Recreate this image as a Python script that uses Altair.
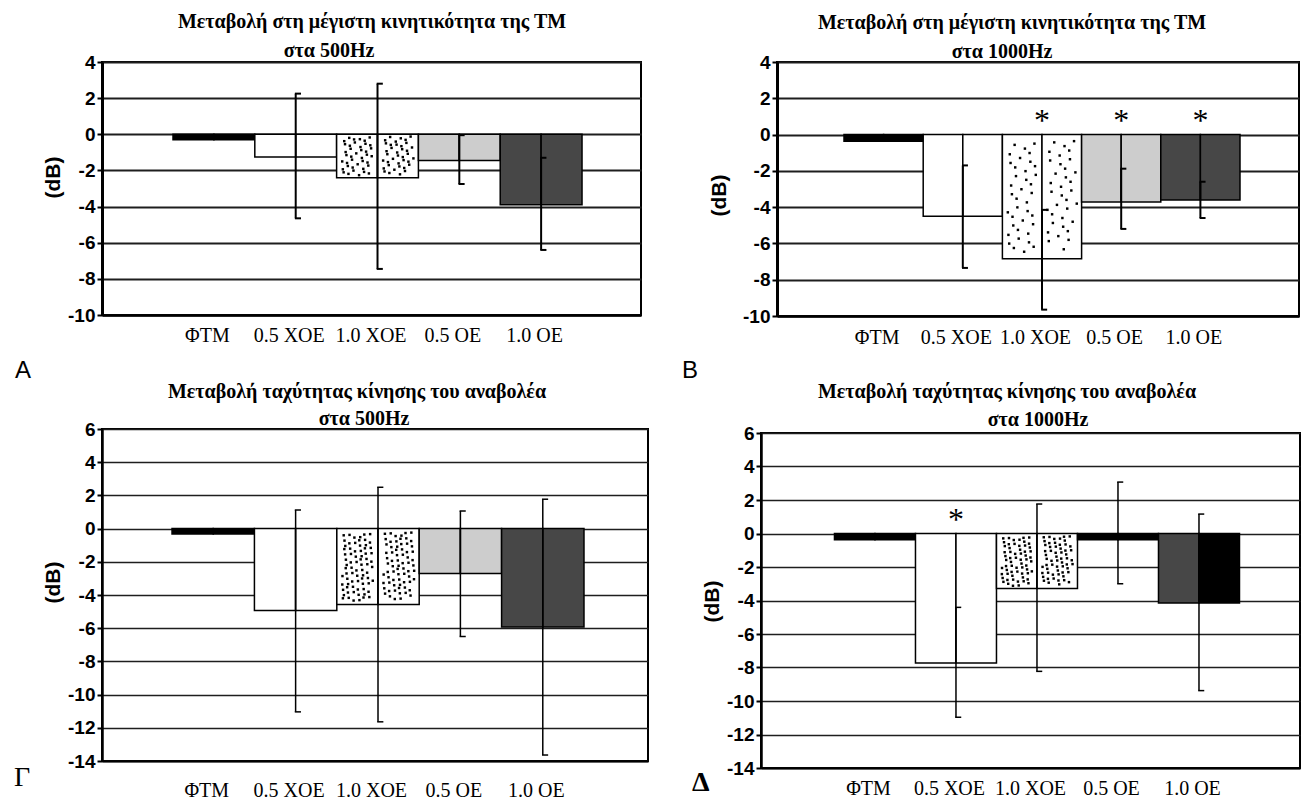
import altair as alt
import pandas as pd

# Category labels shared by all four panels
groups = ["ΦΤΜ", "0.5 ΧΟΕ", "1.0 ΧΟΕ", "0.5 ΟΕ", "1.0 ΟΕ"]
positions = [1, 2, 3, 4, 5]

# A: change in peak TM mobility at 500 Hz (dB), mean and error-bar ends
a_mean = [-0.3, -1.25, -2.4, -1.45, -3.9]
a_low = [None, -4.65, -7.45, -2.75, -6.4]
a_high = [None, 2.25, 2.8, -0.05, -1.3]
a_star = [False, False, False, False, False]

# B: change in peak TM mobility at 1000 Hz (dB)
b_mean = [-0.37, -4.5, -6.85, -3.72, -3.6]
b_low = [None, -7.35, -9.65, -5.2, -4.6]
b_high = [None, -1.7, -4.15, -1.88, -2.6]
b_star = [False, False, True, True, True]

# Γ: change in stapes velocity at 500 Hz (dB)
g_mean = [-0.33, -4.93, -4.57, -2.71, -5.93]
g_low = [None, -11.04, -11.64, -6.5, -13.64]
g_high = [None, 1.12, 2.49, 1.06, 1.77]
g_star = [False, False, False, False, False]

# Δ: change in stapes velocity at 1000 Hz (dB)
d_mean = [-0.37, -7.73, -3.29, -0.37, -4.15]
d_low = [None, -10.97, -8.23, -3.0, -9.38]
d_high = [None, -4.41, 1.76, 3.07, 1.16]
d_star = [False, True, False, False, False]

# Bar fills (left half / right half of each bar); "dots" = stippled white
fill_std = ["black", "white", "dots", "#cdcdcd", "#474747"]
fill_d_left = ["black", "white", "dots", "black", "#474747"]
fill_d_right = ["black", "white", "dots", "black", "black"]

SERIF = "Liberation Serif, Times New Roman, serif"
SANS = "Liberation Sans, Arial, sans-serif"


def stipple(pos, value, count):
    """Quasi-random dot texture filling one stippled bar."""
    g = 1.32471795724474602596
    a1, a2 = 1.0 / g, 1.0 / (g * g)
    xs, ys = [], []
    for k in range(count):
        u = (0.5 + a1 * k) % 1.0
        v = (0.5 + a2 * k) % 1.0
        if abs(u - 0.5) < 0.07:
            continue
        xs.append(pos - 0.5 + 0.06 + 0.88 * u)
        ys.append(value * (0.05 + 0.9 * v))
    return xs, ys


def panel(p):
    xs = alt.Scale(domain=p["xdom"], nice=False, zero=False)
    ys = alt.Scale(domain=p["ydom"], nice=False, zero=False)

    label_js = "[" + ",".join("'" + g + "'" for g in groups) + "][datum.value - 1]"
    x_axis = alt.Axis(
        values=positions, labelExpr=label_js, grid=False, ticks=False,
        domain=True, domainColor="black", domainWidth=p["dw"],
        labelFont=SERIF, labelFontSize=20, labelColor="black",
        labelPadding=p["xpad"], labelOffset=-7, labelOverlap=False,
        labelFlush=False, title=None,
    )
    y_axis = alt.Axis(
        values=list(range(p["ydom"][0], p["ydom"][1] + 1, 2)),
        labelExpr="'' + datum.value",
        grid=True, gridColor="#1e1e1e", gridWidth=p["gw"],
        domainColor="black", domainWidth=p["dw"] + 0.5,
        tickColor="black", tickSize=5, tickWidth=2,
        labelFont=SANS, labelFontSize=19, labelFontWeight="bold",
        labelColor="black", labelPadding=2,
        title="(dB)", titleFont=SANS,
        titleFontSize=21, titleFontWeight="bold", titleColor="black",
        titleAngle=270, titleAlign="center", titleBaseline="middle",
        titleX=p["ytx"], titleY=p["yty"],
    )

    def X(field):
        return alt.X(field, scale=xs, axis=x_axis)

    def Y(field):
        return alt.Y(field, scale=ys, axis=y_axis)

    # bar halves
    rows = []
    for i, pos in enumerate(positions):
        m = p["mean"][i]
        for x0, x1, f in [(pos - 0.5, pos, p["fl"][i]), (pos, pos + 0.5, p["fr"][i])]:
            rows.append({"x0": x0, "x1": x1, "y0": 0, "y1": m,
                         "fill": "white" if f == "dots" else f})
    bars = alt.Chart(pd.DataFrame(rows)).mark_rect(
        stroke="black", strokeWidth=p["bs"]
    ).encode(
        x=X("x0:Q"), x2="x1:Q", y=Y("y0:Q"), y2="y1:Q",
        fill=alt.Fill("fill:N", scale=None),
    )

    # stipple dots
    dx, dy = [], []
    for i, pos in enumerate(positions):
        if p["fl"][i] == "dots":
            a, b = stipple(pos, p["mean"][i], p["dots"])
            dx += a
            dy += b
    dots = alt.Chart(pd.DataFrame({"x": dx, "y": dy})).mark_square(
        size=6, color="black", opacity=1
    ).encode(x=X("x:Q"), y=Y("y:Q"))

    # error bars with short caps
    err = pd.DataFrame({"pos": positions, "lo": p["lo"], "hi": p["hi"]}).dropna()
    whiskers = alt.Chart(err).mark_rule(color="black", strokeWidth=p["ew"]).encode(
        x=X("pos:Q"), y=Y("lo:Q"), y2="hi:Q",
    )
    cap_rows = []
    for _, r in err.iterrows():
        for yv in (r["lo"], r["hi"]):
            cap_rows.append({"x0": r["pos"] - 0.01, "x1": r["pos"] + 0.065, "y": yv})
    caps = alt.Chart(pd.DataFrame(cap_rows)).mark_rule(
        color="black", strokeWidth=p["ew"]
    ).encode(x=X("x0:Q"), x2="x1:Q", y=Y("y:Q"))

    layers = [bars, dots, whiskers, caps]

    star_pos = [pos for pos, s in zip(positions, p["star"]) if s]
    if star_pos:
        stars = alt.Chart(pd.DataFrame({"pos": star_pos, "sy": p["sy"]})).mark_text(
            text="*", font=SERIF, fontSize=32, baseline="middle", dy=4, color="black"
        ).encode(x=X("pos:Q"), y=Y("sy:Q"))
        layers.append(stars)

    for txt, (tx, ty) in zip(p["title"], p["tpos"]):
        layers.append(
            alt.Chart(pd.DataFrame({"t": [txt]})).mark_text(
                font=SERIF, fontSize=20, fontWeight="bold", align="center",
                baseline="middle", color="black",
            ).encode(x=alt.value(tx), y=alt.value(ty), text="t:N")
        )

    lx, ly = p["lpos"]
    layers.append(
        alt.Chart(pd.DataFrame({"t": [p["letter"]]})).mark_text(
            font=p["lfont"], fontSize=p["lsize"], fontWeight=p["lweight"],
            align="left", baseline="middle", color="black",
        ).encode(x=alt.value(lx), y=alt.value(ly), text="t:N")
    )

    # transparent spacer that reserves room left of the panel in the grid
    if "spacer" in p:
        layers.append(
            alt.Chart(pd.DataFrame({"k": [0]})).mark_rule(opacity=0).encode(
                x=alt.value(p["spacer"]), y=alt.value(0), y2=alt.value(2)
            )
        )

    return alt.layer(*layers).properties(width=p["w"], height=p["h"])


title_tm = "Μεταβολή στη μέγιστη κινητικότητα της ΤΜ"
title_st = "Μεταβολή ταχύτητας κίνησης του αναβολέα"

panel_a = panel(dict(
    mean=a_mean, lo=a_low, hi=a_high, star=a_star, sy=[],
    fl=fill_std, fr=fill_std, dots=90,
    w=539, h=253, xdom=[-0.368, 6.221], ydom=[-10, 4],
    title=[title_tm, "στα 500Hz"], tpos=[(270, -40), (227, -11)],
    letter="A", lfont=SANS, lsize=24, lweight="normal",
    lpos=(-87, 309), ytx=-49, yty=115, xpad=10, gw=2, dw=2.5, bs=1.5, ew=2,
))
panel_b = panel(dict(
    mean=b_mean, lo=b_low, hi=b_high, star=b_star, sy=[0.95, 0.95, 0.95],
    fl=fill_std, fr=fill_std, dots=85,
    w=522, h=254, xdom=[-0.346, 6.245], ydom=[-10, 4],
    title=[title_tm, "στα 1000Hz"], tpos=[(235, -39), (225, -10)],
    letter="B", lfont=SANS, lsize=24, lweight="normal",
    lpos=(-95, 309), ytx=-58, yty=133, xpad=11, gw=2, dw=2.5, bs=1.5, ew=2,
))
panel_g = panel(dict(
    mean=g_mean, lo=g_low, hi=g_high, star=g_star, sy=[],
    fl=fill_std, fr=fill_std, dots=170,
    w=546, h=332, xdom=[-0.350, 6.277], ydom=[-14, 6],
    title=[title_st, "στα 500Hz"], tpos=[(255, -37), (262, -10)],
    letter="Γ", lfont=SERIF, lsize=28, lweight="normal",
    lpos=(-88, 349), ytx=-49, yty=153, xpad=19, gw=1.5, dw=2, bs=1.5, ew=1.5,
))
panel_d = panel(dict(
    mean=d_mean, lo=d_low, hi=d_high, star=d_star, sy=[1.05],
    fl=fill_d_left, fr=fill_d_right, dots=140,
    w=539, h=335, xdom=[-0.407, 6.247], ydom=[-14, 6],
    title=[title_st, "στα 1000Hz"], tpos=[(246, -41), (277, -13)],
    letter="Δ", lfont=SERIF, lsize=28, lweight="bold",
    lpos=(-69, 350), ytx=-49, yty=168, xpad=10, gw=1.5, dw=2, bs=1.5, ew=1.5,
    spacer=-79,
))

chart = alt.concat(
    panel_a, panel_b, panel_g, panel_d,
    columns=2, align="none", spacing={"row": -3, "column": 32},
).configure_view(
    stroke="black", strokeWidth=2
).properties(
    padding={"left": 13, "top": 11, "right": 5, "bottom": 0},
    background="white",
)

chart.save("out.html", embed_options={"renderer": "svg", "actions": False})
